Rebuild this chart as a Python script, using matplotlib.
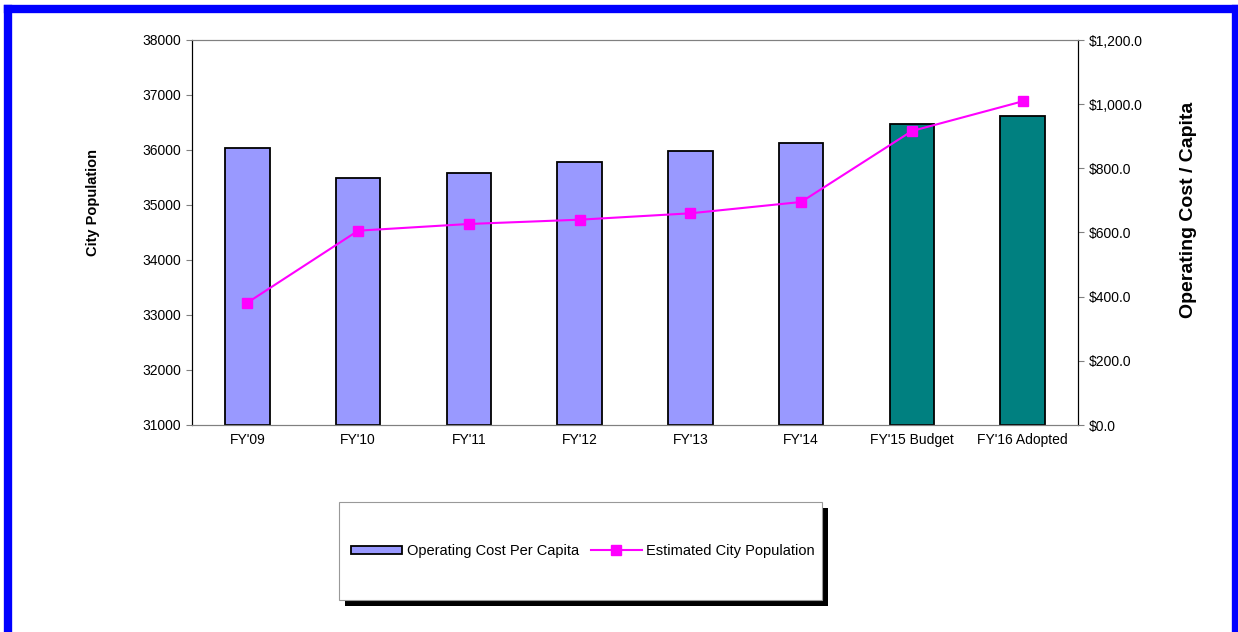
import matplotlib
matplotlib.use("Agg")
import matplotlib.pyplot as plt
from matplotlib.patches import Rectangle, Patch
from matplotlib.lines import Line2D
from matplotlib.ticker import FuncFormatter

plt.rcParams['font.family'] = ['Liberation Sans', 'DejaVu Sans']

years = ["FY'09", "FY'10", "FY'11", "FY'12", "FY'13", "FY'14", "FY'15 Budget", "FY'16 Adopted"]
cost_per_capita = [862, 769, 784, 820, 855, 878, 937, 962]
population = [33224, 34533, 34655, 34733, 34849, 35055, 36345, 36885]
bar_colors = ['#9999FF'] * 6 + ['#008080'] * 2

W, H = 1238, 632
fig = plt.figure(figsize=(W / 100, H / 100), dpi=100)
ax = fig.add_axes([192 / W, 1 - 425 / H, 886 / W, 385 / H])
ax2 = ax.twinx()
x = list(range(len(years)))

# bars use the right-hand scale
ax.bar(x, cost_per_capita, width=0.4, color=bar_colors, edgecolor='black', linewidth=1.3, zorder=2)
ax.set_ylim(0, 1200)
ax.set_yticks(range(0, 1201, 200))
ax.yaxis.set_major_formatter(FuncFormatter(lambda v, p: '${:,.1f}'.format(v)))
ax.yaxis.tick_right()
ax.yaxis.set_label_position('right')
ax.set_ylabel('Operating Cost / Capita', fontsize=14, fontweight='bold')
ax.yaxis.set_label_coords(1.115, 0.558)
ax.set_xlim(-0.5, len(years) - 0.5)
ax.set_xticks(x)
ax.set_xticklabels(years)
ax.tick_params(axis='x', length=0, labelsize=10, pad=6)
ax.tick_params(axis='y', labelsize=10, color='gray', length=4, pad=4)

# line uses the left-hand scale
ax2.plot(x, population, color='#FF00FF', linewidth=1.5, marker='s', markersize=6.5, zorder=3)
ax2.set_ylim(31000, 38000)
ax2.set_yticks(range(31000, 38001, 1000))
ax2.yaxis.tick_left()
ax2.yaxis.set_label_position('left')
ax2.set_ylabel('City Population', fontsize=10.5, fontweight='bold')
ax2.yaxis.set_label_coords(-0.104, 0.577)
ax2.tick_params(axis='y', labelsize=10, color='gray', length=4, pad=4)

for a in (ax, ax2):
    a.spines['top'].set_color('gray')
    a.spines['bottom'].set_color('gray')
    a.spines['left'].set_color('black')
    a.spines['right'].set_color('black')

# legend box with shadow
shadow = Rectangle((345 / W, 1 - 606 / H), 483 / W, 98 / H, transform=fig.transFigure,
                   facecolor='black', edgecolor='none', zorder=1)
box = Rectangle((339 / W, 1 - 600 / H), 483 / W, 98 / H, transform=fig.transFigure,
                facecolor='white', edgecolor='#999999', linewidth=0.8, zorder=2)
fig.patches.extend([shadow, box])
handles = [Patch(facecolor='#9999FF', edgecolor='black', linewidth=1.3),
           Line2D([], [], color='#FF00FF', linewidth=1.5, marker='s', markersize=6.5)]
leg = fig.legend(handles, ['Operating Cost Per Capita', 'Estimated City Population'],
                 loc='center', bbox_to_anchor=(583 / W, 1 - 551 / H), ncol=2, frameon=False,
                 fontsize=10.5, handlelength=3.5, handleheight=0.5, handletextpad=0.3,
                 columnspacing=0.8)
leg.set_zorder(3)

# blue frame
frame = dict(transform=fig.transFigure, color='#0000FF', linewidth=6)
fig.add_artist(Line2D([7.5 / W, 7.5 / W], [-0.05, 1 - 9 / H], **frame))
fig.add_artist(Line2D([7.5 / W, 1236 / W], [1 - 9 / H, 1 - 9 / H], **frame))
fig.add_artist(Line2D([1236 / W, 1236 / W], [1 - 9 / H, -0.05], **frame))

fig.savefig('out.png', dpi=100)
